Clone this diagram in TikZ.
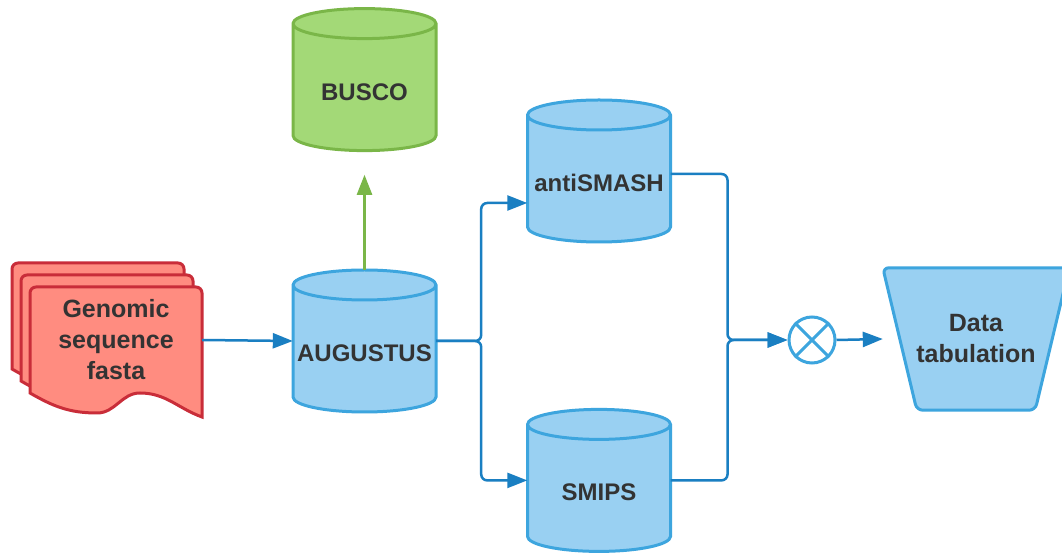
\documentclass[tikz,border=0pt]{standalone}
\usepackage{fontspec}
\setmainfont{Liberation Sans}
\usetikzlibrary{positioning,arrows.meta,backgrounds,calc}

\definecolor{dbfill}{HTML}{99D0F2}
\definecolor{dbline}{HTML}{3DA5DE}
\definecolor{okfill}{HTML}{A3D977}
\definecolor{okline}{HTML}{7AB648}
\definecolor{docfill}{HTML}{FF8C80}
\definecolor{docline}{HTML}{C92D39}
\definecolor{flowblue}{HTML}{1A7FC2}
\definecolor{ink}{HTML}{333333}

\tikzset{
	lbl/.style={font=\bfseries\fontsize{25}{31}\selectfont, text=ink, align=center, inner sep=0pt},
	db/.style={lbl, font=\bfseries\fontsize{24}{31}\selectfont, minimum width=143pt, minimum height=142pt, text height=41pt, text depth=0pt},
	flow/.style={line width=2.5pt, draw=flowblue, -{Triangle[length=20pt,width=15pt]}},
	edge3/.style={line width=3pt},
}

\begin{document}
\begin{tikzpicture}[x=1pt,y=1pt]
	\useasboundingbox (0,0) rectangle (1062,554);
	\node[lbl, minimum width=172pt, minimum height=106pt] (fasta) at (116,214) {Genomic\\sequence\\fasta};
	\node[db] (aug) at (364.5,213) {AUGUSTUS};
	\node[db, above=119pt of aug] (busco) {BUSCO};
	\node[db] (anti) at (599,383) {antiSMASH};
	\node[db, below=167pt of anti] (smips) {SMIPS};
	\node[circle, draw=dbline, edge3, minimum size=46pt, inner sep=0pt] (mix) at (812,214) {};
	\node[lbl, minimum width=186pt, minimum height=142pt] (tab) at (976,215) {Data\\tabulation};
	%
	\begin{pgfonlayer}{background}
		\fill[white] (0,0) rectangle (1062,554);
		% stacked sheets
		\foreach \s in {18,9,0}
			\draw[edge3, draw=docline, fill=docfill, shift={($(fasta.center)+(-\s,4*\s/3)$)}]
				(-86,-53) -- (-86,47) arc[start angle=180, end angle=90, radius=6] -- (80,53)
				arc[start angle=90, end angle=0, radius=6] -- (86,-77)
				to[out=160, in=0] (24,-53) to[out=180, in=0] (-19,-73) to[out=180, in=-30] cycle;
		% databases
		\foreach \n/\f/\l in {aug/dbfill/dbline, busco/okfill/okline, anti/dbfill/dbline, smips/dbfill/dbline}
		{
			\draw[edge3, draw=\l, fill=\f, shift={(\n.center)}]
				(-71.5,56) -- (-71.5,-56) arc[start angle=180, end angle=360, x radius=71.5, y radius=15]
				-- (71.5,56) arc[start angle=0, end angle=180, x radius=71.5, y radius=15] -- cycle
				(-71.5,56) arc[start angle=180, end angle=360, x radius=71.5, y radius=15];
		}
		\draw[edge3, draw=dbline, fill=dbfill, rounded corners=6pt]
			(tab.north west) -- (tab.north east) -- ([xshift=-34pt]tab.south east) -- ([xshift=34pt]tab.south west) -- cycle;
	\end{pgfonlayer}
	%
	\draw[edge3, draw=dbline] (mix.north west) -- (mix.south east) (mix.north east) -- (mix.south west);
	\draw[flow] (fasta.east) -- (aug.west);
	\draw[flow, draw=okline] (aug.north) -- ([yshift=-24pt]busco.south);
	\draw[flow] (aug.east) [rounded corners=6pt] -- ++(45,0) |- ([yshift=-32pt]anti.west);
	\draw[flow] (aug.east) [rounded corners=6pt] -- ++(45,0) |- (smips.west);
	\draw[flow] ([yshift=-3pt]anti.east) [rounded corners=6pt] -| ([xshift=-60pt]mix.west) -- (mix.west);
	\draw[flow] (smips.east) [rounded corners=6pt] -| ([xshift=-60pt]mix.west) -- (mix.west);
	\draw[flow] (mix.east) -- (tab.west);
\end{tikzpicture}
\end{document}
